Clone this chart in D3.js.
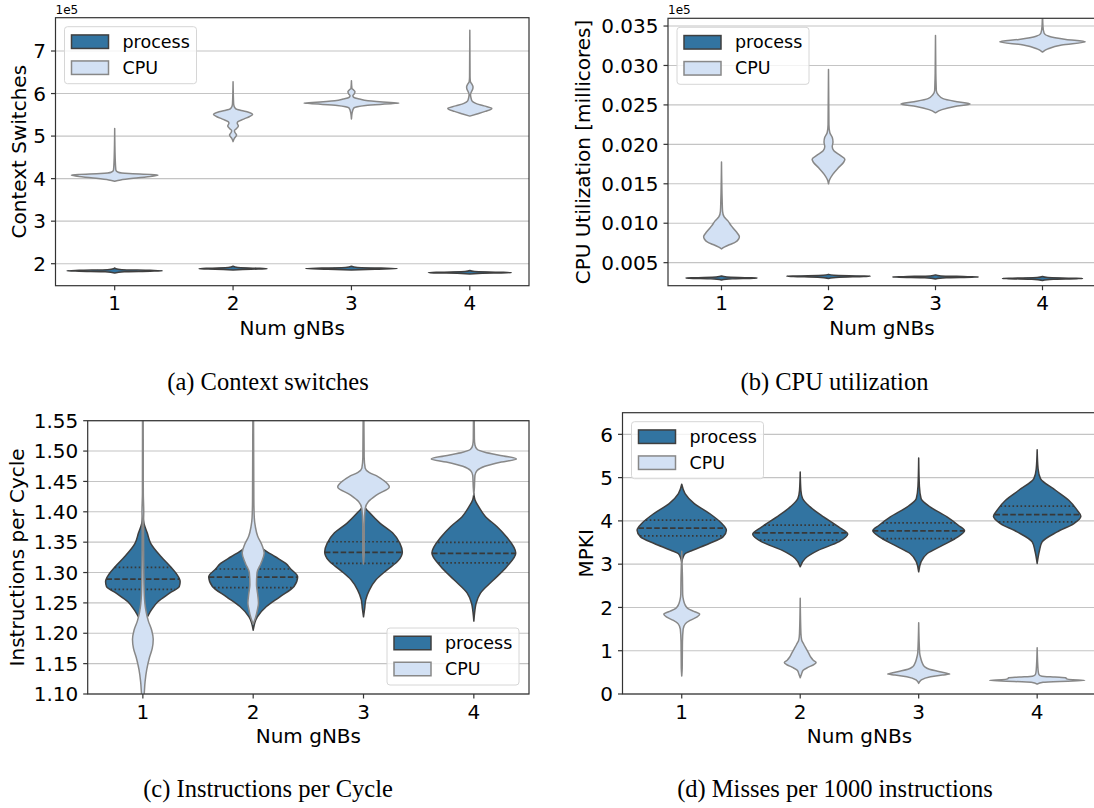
<!DOCTYPE html>
<html>
<head>
<meta charset="utf-8">
<script src="https://cdn.jsdelivr.net/npm/d3@7"></script>
<style>
  body { margin: 0; background: #fff; }
  text { font-family: "DejaVu Sans", sans-serif; fill: #000; }
  .caption { font-family: "Liberation Serif", "Times New Roman", serif; }
</style>
</head>
<body>
<div id="chart"></div>
<script>
// categories and series
var gnbs = ["1", "2", "3", "4"];
var seriesNames = ["process", "CPU"];

// violin outlines: [value, half width as a share of the band]
var csProcess = [
  [[1.78e5, 0], [1.81e5, 0.08], [1.825e5, 0.3], [1.835e5, 0.403], [1.845e5, 0.3], [1.86e5, 0.06], [1.88e5, 0.01], [1.9e5, 0]],
  [[1.85e5, 0], [1.87e5, 0.15], [1.883e5, 0.287], [1.895e5, 0.2], [1.91e5, 0.04], [1.94e5, 0]],
  [[1.85e5, 0], [1.87e5, 0.2], [1.885e5, 0.387], [1.897e5, 0.25], [1.91e5, 0.05], [1.94e5, 0]],
  [[1.76e5, 0], [1.78e5, 0.2], [1.79e5, 0.35], [1.80e5, 0.25], [1.815e5, 0.04], [1.84e5, 0]]
];
var csCpu = [
  [[3.94e5, 0], [3.97e5, 0.05], [4.02e5, 0.2], [4.06e5, 0.33], [4.085e5, 0.366], [4.10e5, 0.3], [4.12e5, 0.12], [4.15e5, 0.03], [4.2e5, 0.01], [4.5e5, 0.004], [5.18e5, 0]],
  [[4.87e5, 0], [4.95e5, 0.012], [5.025e5, 0.03], [5.09e5, 0.015], [5.127e5, 0.012], [5.18e5, 0.03], [5.237e5, 0.045], [5.30e5, 0.035], [5.338e5, 0.04], [5.40e5, 0.09], [5.46e5, 0.14], [5.51e5, 0.165], [5.56e5, 0.13], [5.60e5, 0.07], [5.65e5, 0.02], [5.75e5, 0.005], [6.28e5, 0]],
  [[5.40e5, 0], [5.55e5, 0.006], [5.66e5, 0.02], [5.72e5, 0.12], [5.765e5, 0.35], [5.778e5, 0.40], [5.79e5, 0.33], [5.83e5, 0.14], [5.87e5, 0.07], [5.91e5, 0.02], [5.95e5, 0.012], [6.00e5, 0.025], [6.04e5, 0.03], [6.08e5, 0.02], [6.12e5, 0.004], [6.30e5, 0]],
  [[5.47e5, 0], [5.52e5, 0.06], [5.58e5, 0.13], [5.65e5, 0.186], [5.71e5, 0.12], [5.77e5, 0.05], [5.83e5, 0.018], [5.90e5, 0.01], [5.98e5, 0.006], [6.05e5, 0.015], [6.12e5, 0.026], [6.16e5, 0.027], [6.22e5, 0.018], [6.28e5, 0.005], [6.4e5, 0.002], [7.49e5, 0]]
];

var cpuProcess = [
  [[280, 0], [295, 0.1], [303, 0.3], [306, 0.332], [310, 0.25], [318, 0.05], [330, 0]],
  [[300, 0], [315, 0.1], [324, 0.33], [327, 0.39], [331, 0.3], [340, 0.05], [352, 0]],
  [[293, 0], [308, 0.1], [316, 0.34], [319, 0.40], [323, 0.3], [332, 0.05], [345, 0]],
  [[275, 0], [290, 0.1], [297, 0.32], [300, 0.374], [304, 0.28], [312, 0.05], [325, 0]]
];
var cpuCpu = [
  [[674, 0], [700, 0.03], [730, 0.08], [760, 0.13], [800, 0.16], [830, 0.167], [870, 0.15], [920, 0.12], [970, 0.09], [1030, 0.06], [1080, 0.025], [1150, 0.01], [1300, 0.006], [1775, 0]],
  [[1500, 0], [1550, 0.01], [1620, 0.04], [1700, 0.09], [1770, 0.14], [1810, 0.153], [1860, 0.11], [1920, 0.05], [1970, 0.035], [2030, 0.042], [2090, 0.035], [2150, 0.012], [2250, 0.004], [2950, 0]],
  [[2400, 0], [2440, 0.06], [2480, 0.18], [2510, 0.324], [2540, 0.2], [2580, 0.07], [2630, 0.025], [2680, 0.008], [2750, 0.006], [2900, 0.003], [3380, 0]],
  [[3170, 0], [3210, 0.05], [3260, 0.18], [3300, 0.40], [3330, 0.22], [3370, 0.06], [3410, 0.015], [3500, 0.004], [3700, 0]]
];

var ipcProcess = [
  [[1.215, 0], [1.227, 0.04], [1.238, 0.076], [1.252, 0.136], [1.266, 0.242], [1.277, 0.33], [1.285, 0.338], [1.293, 0.322], [1.31, 0.249], [1.326, 0.166], [1.348, 0.071], [1.365, 0.04], [1.381, 0.01], [1.395, 0]],
  [[1.205, 0], [1.227, 0.038], [1.244, 0.12], [1.26, 0.242], [1.277, 0.37], [1.293, 0.403], [1.306, 0.34], [1.315, 0.295], [1.326, 0.2], [1.335, 0.12], [1.345, 0.05], [1.36, 0.01], [1.38, 0]],
  [[1.227, 0], [1.24, 0.01], [1.255, 0.02], [1.271, 0.053], [1.288, 0.113], [1.304, 0.211], [1.32, 0.317], [1.334, 0.352], [1.348, 0.33], [1.365, 0.265], [1.381, 0.151], [1.3975, 0.06], [1.408, 0.01], [1.415, 0]],
  [[1.22, 0], [1.235, 0.008], [1.249, 0.02], [1.266, 0.06], [1.288, 0.18], [1.31, 0.30], [1.332, 0.38], [1.359, 0.295], [1.3755, 0.211], [1.392, 0.106], [1.408, 0.045], [1.42, 0.01], [1.43, 0]]
];
var ipcCpu = [
  [[1.08, 0], [1.10, 0.012], [1.12, 0.02], [1.14, 0.035], [1.16, 0.06], [1.175, 0.085], [1.19, 0.094], [1.205, 0.08], [1.22, 0.05], [1.235, 0.03], [1.25, 0.018], [1.28, 0.01], [1.33, 0.007], [1.38, 0.006], [1.40, 0.008], [1.43, 0.004], [1.56, 0.003], [1.58, 0]],
  [[1.215, 0], [1.225, 0.02], [1.24, 0.04], [1.25, 0.048], [1.265, 0.04], [1.28, 0.03], [1.30, 0.035], [1.315, 0.07], [1.332, 0.1], [1.345, 0.08], [1.36, 0.04], [1.375, 0.02], [1.39, 0.01], [1.42, 0.006], [1.56, 0.003], [1.58, 0]],
  [[1.314, 0], [1.33, 0.006], [1.38, 0.007], [1.405, 0.015], [1.417, 0.045], [1.428, 0.12], [1.441, 0.234], [1.452, 0.18], [1.458, 0.13], [1.465, 0.05], [1.472, 0.015], [1.49, 0.006], [1.56, 0.003], [1.58, 0]],
  [[1.4276, 0], [1.44, 0.005], [1.46, 0.01], [1.468, 0.03], [1.475, 0.1], [1.482, 0.25], [1.487, 0.386], [1.492, 0.27], [1.498, 0.1], [1.503, 0.03], [1.51, 0.01], [1.52, 0.005], [1.56, 0.003], [1.58, 0]]
];
// process quartiles [q1, median, q3]
var ipcQuartiles = [[1.2724, 1.289, 1.3085], [1.275, 1.2926, 1.3058], [1.3152, 1.3333, 1.3507], [1.316, 1.3317, 1.3497]];

var mpkiProcess = [
  [[3.05, 0], [3.15, 0.01], [3.247, 0.03], [3.323, 0.092], [3.478, 0.232], [3.63, 0.348], [3.785, 0.377], [3.94, 0.338], [4.17, 0.235], [4.40, 0.106], [4.632, 0.028], [4.846, 0]],
  [[2.938, 0], [3.131, 0.042], [3.323, 0.155], [3.515, 0.324], [3.692, 0.401], [3.861, 0.324], [4.092, 0.197], [4.323, 0.084], [4.516, 0.02], [4.7, 0.006], [5.13, 0]],
  [[2.823, 0], [3.054, 0.02], [3.247, 0.073], [3.439, 0.204], [3.63, 0.331], [3.77, 0.387], [3.9, 0.334], [4.092, 0.239], [4.32, 0.099], [4.516, 0.02], [4.8, 0.006], [5.454, 0]],
  [[3.016, 0], [3.323, 0.02], [3.515, 0.042], [3.746, 0.169], [3.939, 0.31], [4.108, 0.369], [4.246, 0.338], [4.477, 0.267], [4.708, 0.155], [4.977, 0.028], [5.2, 0.008], [5.646, 0]]
];
var mpkiCpu = [
  [[0.415, 0], [0.6, 0.004], [1.2, 0.006], [1.5, 0.012], [1.62, 0.03], [1.70, 0.07], [1.78, 0.13], [1.846, 0.152], [1.90, 0.11], [1.98, 0.05], [2.08, 0.025], [2.17, 0.015], [2.3, 0.008], [2.7, 0.006], [3.3, 0]],
  [[0.377, 0], [0.45, 0.01], [0.55, 0.025], [0.62, 0.07], [0.68, 0.115], [0.73, 0.134], [0.78, 0.11], [0.85, 0.09], [0.95, 0.07], [1.05, 0.05], [1.15, 0.03], [1.25, 0.012], [1.4, 0.006], [2.21, 0]],
  [[0.246, 0], [0.32, 0.02], [0.40, 0.1], [0.44, 0.2], [0.46, 0.262], [0.49, 0.22], [0.52, 0.17], [0.57, 0.09], [0.63, 0.05], [0.72, 0.03], [0.82, 0.018], [0.95, 0.008], [1.646, 0]],
  [[0.23, 0], [0.27, 0.05], [0.30, 0.3], [0.315, 0.401], [0.33, 0.3], [0.35, 0.25], [0.375, 0.24], [0.39, 0.15], [0.41, 0.04], [0.45, 0.015], [0.55, 0.008], [1.069, 0]]
];
var mpkiQuartiles = [[3.654, 3.831, 4.016], [3.554, 3.723, 3.90], [3.592, 3.77, 3.954], [3.977, 4.147, 4.339]];

// axis ticks and ranges
var csTicks = [2e5, 3e5, 4e5, 5e5, 6e5, 7e5];
var csDomain = [1.483e5, 7.783e5];
var cpuTicks = [500, 1000, 1500, 2000, 2500, 3000, 3500];
var cpuDomain = [208, 3598];
var ipcTicks = [1.10, 1.15, 1.20, 1.25, 1.30, 1.35, 1.40, 1.45, 1.50, 1.55];
var ipcDomain = [1.10, 1.55];
var mpkiTicks = [0, 1, 2, 3, 4, 5, 6];
var mpkiDomain = [0, 6.5];

var colors = { process: { fill: "#3274a1", edge: "#3f3f3f" }, CPU: { fill: "#d3e1f4", edge: "#888888" } };

var svg = d3.select("#chart").append("svg")
    .attr("width", 1094)
    .attr("height", 808);

svg.append("rect").attr("width", 1094).attr("height", 808).attr("fill", "#fff");

var panels = [
  { id: "a", process: csProcess, cpu: csCpu, quart: null, ticks: csTicks, domain: csDomain,
    fmt: function (d) { return d3.format("d")(d / 1e5); }, offset: "1e5",
    box: [55.5, 17.7, 529, 285.7], ylabel: "Context Switches", ylabelX: 26,
    caption: "(a) Context switches", capX: 268, capY: 390, legend: "tl" },
  { id: "b", process: cpuProcess, cpu: cpuCpu, quart: null, ticks: cpuTicks, domain: cpuDomain,
    fmt: function (d) { return (d / 1e5).toFixed(3); }, offset: "1e5",
    box: [668, 18.3, 1096, 285.7], ylabel: "CPU Utilization [millicores]", ylabelX: 590,
    caption: "(b) CPU utilization", capX: 834.5, capY: 390, legend: "tl" },
  { id: "c", process: ipcProcess, cpu: ipcCpu, quart: ipcQuartiles, ticks: ipcTicks, domain: ipcDomain,
    fmt: function (d) { return d.toFixed(2); }, offset: null,
    box: [87.7, 420.7, 529, 694], ylabel: "Instructions per Cycle", ylabelX: 23.5,
    caption: "(c) Instructions per Cycle", capX: 268, capY: 797, legend: "br" },
  { id: "d", process: mpkiProcess, cpu: mpkiCpu, quart: mpkiQuartiles, ticks: mpkiTicks, domain: mpkiDomain,
    fmt: function (d) { return d3.format("d")(d); }, offset: null,
    box: [622.5, 412.7, 1096.4, 694], ylabel: "MPKI", ylabelX: 593,
    caption: "(d) Misses per 1000 instructions", capX: 835, capY: 797, legend: "tl" }
];

// half width of a violin outline at value v
function halfWidthAt(prof, v) {
  for (var i = 0; i < prof.length - 1; i++) {
    var a = prof[i], b = prof[i + 1];
    if (v >= a[0] && v <= b[0]) return a[1] + (b[1] - a[1]) * (v - a[0]) / (b[0] - a[0]);
  }
  return 0;
}

panels.forEach(function (p) {
  var left = p.box[0], top = p.box[1], right = p.box[2], bottom = p.box[3];
  var g = svg.append("g");

  var x = d3.scaleBand().domain(gnbs).range([left, right]);
  var y = d3.scaleLinear().domain(p.domain).range([bottom, top]);
  var bw = x.bandwidth();

  // grid
  g.append("g").selectAll("line")
      .data(p.ticks)
      .enter().append("line")
      .attr("x1", left).attr("x2", right)
      .attr("y1", y).attr("y2", y)
      .attr("stroke", "#c4c4c4")
      .attr("stroke-width", 1.1);

  var clipId = "clip-" + p.id;
  svg.append("clipPath").attr("id", clipId)
    .append("rect").attr("x", left).attr("y", top).attr("width", right - left).attr("height", bottom - top);

  var plot = g.append("g").attr("clip-path", "url(#" + clipId + ")");

  function drawViolins(profiles, c) {
    profiles.forEach(function (prof, i) {
      var cx = x(gnbs[i]) + bw / 2;
      var area = d3.area()
          .y(function (d) { return y(d[0]); })
          .x0(function (d) { return cx - d[1] * bw; })
          .x1(function (d) { return cx + d[1] * bw; })
          .curve(d3.curveMonotoneY);
      plot.append("path")
          .attr("d", area(prof))
          .attr("fill", c.fill)
          .attr("stroke", c.edge)
          .attr("stroke-width", 1.5)
          .attr("stroke-linejoin", "round");
    });
  }

  drawViolins(p.process, colors.process);

  if (p.quart) {
    p.quart.forEach(function (q, i) {
      var cx = x(gnbs[i]) + bw / 2;
      q.forEach(function (v, k) {
        var hw = halfWidthAt(p.process[i], v) * bw;
        plot.append("line")
            .attr("x1", cx - hw).attr("x2", cx + hw)
            .attr("y1", y(v)).attr("y2", y(v))
            .attr("stroke", "#383838")
            .attr("stroke-width", 1.7)
            .attr("stroke-dasharray", k === 1 ? "5.5,2.4" : "1.6,2.4");
      });
    });
  }

  drawViolins(p.cpu, colors.CPU);

  // spines
  g.append("rect")
      .attr("x", left).attr("y", top)
      .attr("width", right - left).attr("height", bottom - top)
      .attr("fill", "none")
      .attr("stroke", "#333")
      .attr("stroke-width", 1.2);

  // y axis
  var yAxis = g.append("g").selectAll("g")
      .data(p.ticks)
      .enter().append("g");
  yAxis.append("line")
      .attr("x1", left - 4.5).attr("x2", left)
      .attr("y1", y).attr("y2", y)
      .attr("stroke", "#333").attr("stroke-width", 1.2);
  yAxis.append("text")
      .attr("x", left - 9.5)
      .attr("y", y)
      .attr("dy", "0.36em")
      .attr("text-anchor", "end")
      .style("font-size", "20px")
      .text(p.fmt);

  // x axis
  var xAxis = g.append("g").selectAll("g")
      .data(gnbs)
      .enter().append("g");
  xAxis.append("line")
      .attr("x1", function (d) { return x(d) + bw / 2; })
      .attr("x2", function (d) { return x(d) + bw / 2; })
      .attr("y1", bottom).attr("y2", bottom + 4.5)
      .attr("stroke", "#333").attr("stroke-width", 1.2);
  xAxis.append("text")
      .attr("x", function (d) { return x(d) + bw / 2; })
      .attr("y", bottom + 24.5)
      .attr("text-anchor", "middle")
      .style("font-size", "20px")
      .text(function (d) { return d; });

  g.append("text")
      .attr("x", (left + right) / 2)
      .attr("y", bottom + 49)
      .attr("text-anchor", "middle")
      .style("font-size", "20px")
      .text("Num gNBs");

  g.append("text")
      .attr("transform", "translate(" + p.ylabelX + "," + (top + bottom) / 2 + ")rotate(-90)")
      .attr("text-anchor", "middle")
      .style("font-size", "20px")
      .text(p.ylabel);

  if (p.offset) {
    g.append("text")
        .attr("x", left)
        .attr("y", top - 4)
        .style("font-size", "12px")
        .text(p.offset);
  }

  // legend
  var lw = 132, lh = 57;
  var lx = p.legend === "tl" ? left + 9 : right - 10 - lw;
  var ly = p.legend === "tl" ? top + 9 : bottom - 9 - lh;
  var legend = g.append("g").attr("transform", "translate(" + lx + "," + ly + ")");
  legend.append("rect")
      .attr("width", lw).attr("height", lh)
      .attr("rx", 3)
      .attr("fill", "#fff").attr("fill-opacity", 0.8)
      .attr("stroke", "#d6d6d6");
  var item = legend.selectAll("g.item")
      .data(seriesNames)
      .enter().append("g")
      .attr("class", "item")
      .attr("transform", function (d, i) { return "translate(0," + (15 + i * 26) + ")"; });
  item.append("rect")
      .attr("x", 7).attr("y", -6.75)
      .attr("width", 37).attr("height", 13.5)
      .attr("fill", function (d) { return colors[d].fill; })
      .attr("stroke", function (d) { return colors[d].edge; })
      .attr("stroke-width", 1.5);
  item.append("text")
      .attr("x", 58)
      .attr("dy", "0.35em")
      .style("font-size", "17.5px")
      .text(function (d) { return d; });

  // caption
  svg.append("text")
      .attr("class", "caption")
      .attr("x", p.capX)
      .attr("y", p.capY)
      .attr("text-anchor", "middle")
      .style("font-size", "24.5px")
      .text(p.caption);
});
</script>
</body>
</html>
